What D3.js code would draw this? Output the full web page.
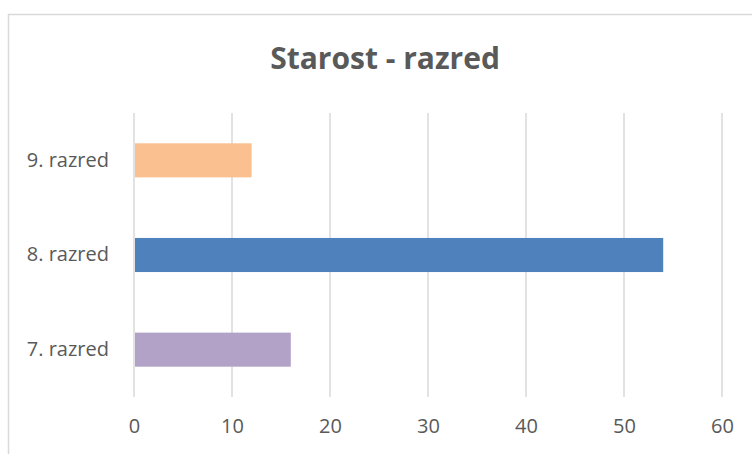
<!DOCTYPE html>
<html>
<head>
<meta charset="utf-8">
<script src="https://cdn.jsdelivr.net/npm/d3@7"></script>
<style>
  body { margin: 0; background: #fff; }
  text { font-family: "Open Sans", sans-serif; fill: #595959; }
</style>
</head>
<body>
<div class="chart"></div>
<script>
const categories = ["9. razred", "8. razred", "7. razred"];
const values = [12, 54, 16];
const barColors = ["#FAC090", "#4F81BD", "#B3A2C7"];
const xTicks = [0, 10, 20, 30, 40, 50, 60];

let dims = { height: 454, width: 752 };
const plot = { left: 134, right: 722, top: 113, bottom: 397 };

let svg = d3
  .select(".chart")
  .append("svg")
  .attr("height", dims.height)
  .attr("width", dims.width);

// chart frame (right and bottom edges run off the picture)
svg.append("rect")
  .attr("x", 8.5).attr("y", 14.5)
  .attr("width", 800).attr("height", 500)
  .attr("fill", "none")
  .attr("stroke", "#D9D9D9")
  .attr("stroke-width", 1.5);

let x = d3.scaleLinear().domain([0, 60]).range([plot.left, plot.right]);
let y = d3.scaleBand().domain(categories).range([plot.top, plot.bottom])
  .paddingInner(0.64).paddingOuter(0.32);

// gridlines
svg.append("g")
  .selectAll("line")
  .data(xTicks)
  .join("line")
  .attr("x1", d => x(d)).attr("x2", d => x(d))
  .attr("y1", plot.top).attr("y2", plot.bottom)
  .attr("stroke", "#D9D9D9")
  .attr("stroke-width", 1.5);

// bars
svg.append("g")
  .selectAll("rect")
  .data(values)
  .join("rect")
  .attr("x", x(0) + 1)
  .attr("y", (d, i) => y(categories[i]))
  .attr("width", d => x(d) - x(0) - 1)
  .attr("height", y.bandwidth())
  .attr("fill", (d, i) => barColors[i]);

// x axis labels
let xAxis = svg.append("g")
  .attr("transform", `translate(0, ${plot.bottom + 22})`)
  .call(d3.axisBottom(x).tickValues(xTicks).tickSize(0).tickPadding(0));
xAxis.select(".domain").remove();
xAxis.selectAll("text")
  .style("font-size", "20px")
  .attr("fill", "#595959");

// y axis labels
let yAxis = svg.append("g")
  .attr("transform", `translate(${plot.left - 25}, 0)`)
  .call(d3.axisLeft(y).tickSize(0).tickPadding(0));
yAxis.select(".domain").remove();
yAxis.selectAll("text")
  .style("font-size", "20px")
  .attr("fill", "#595959");

// title
svg.append("text")
  .attr("x", 385)
  .attr("y", 69)
  .attr("text-anchor", "middle")
  .style("font-size", "30px")
  .style("font-weight", 700)
  .text("Starost - razred");
</script>
</body>
</html>
